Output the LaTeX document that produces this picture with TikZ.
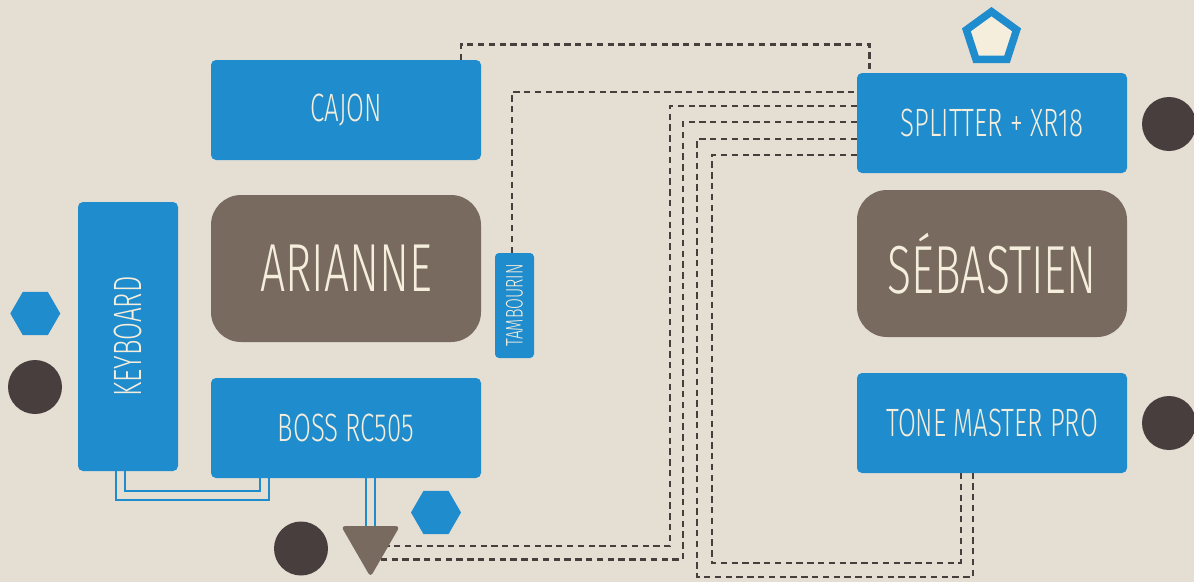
\documentclass[tikz,border=0pt]{standalone}
\usepackage{fontspec}
\setmainfont{Fira Sans Light}[FakeStretch=0.655]
\usetikzlibrary{shapes.geometric,calc}
\definecolor{bgcol}{HTML}{E5DED3}
\definecolor{bluec}{HTML}{1F8CCD}
\definecolor{brownc}{HTML}{786A5E}
\definecolor{darkc}{HTML}{483E3E}
\definecolor{creamc}{HTML}{F5EEDD}
\pgfdeclarelayer{lines}
\pgfsetlayers{lines,main}
\tikzset{
  smallbox/.style={fill=bluec, rounded corners=5pt, minimum width=270pt, minimum height=100pt, inner sep=0pt, text=creamc, font=\fontsize{39.5}{39.5}\selectfont},
  bigbox/.style={fill=brownc, rounded corners=30pt, minimum width=270pt, minimum height=147pt, inner sep=0pt, text=creamc, font=\fontsize{68}{68}\selectfont},
  rottext/.style={rotate=90, inner sep=0pt, text=creamc},
  dot/.style={circle, fill=darkc, minimum size=54pt, inner sep=0pt},
  hexa/.style={regular polygon, regular polygon sides=6, fill=bluec, minimum size=50pt, inner sep=0pt},
  dashline/.style={draw=darkc, line width=2.8pt, dash pattern=on 6.3pt off 4.5pt},
  dblline/.style={draw=bluec, line width=2.2pt, double=bgcol, double distance=6.8pt},
}
\begin{document}
\begin{tikzpicture}[x=1pt,y=-1pt]
\begin{pgfonlayer}{lines}
\fill[bgcol] (0,0) rectangle (1194,582);
\end{pgfonlayer}
\useasboundingbox (0,0) rectangle (1194,582);
% left group
\node[smallbox] (cajon) at (346,110) {CAJON};
\node[bigbox] (arianne) at (346,268.5) {ARIANNE};
\node[smallbox] (boss) at (346,428) {BOSS RC505};
\node[smallbox, minimum width=100pt, minimum height=269pt] (keyboard) at (128,336.5) {};
\node[rottext, font=\fontsize{39.5}{39.5}\selectfont] (kbtext) at (keyboard.center) {KEYBOARD};
\node[fill=bluec, rounded corners=4pt, minimum width=39pt, minimum height=105pt, inner sep=0pt] (tamb) at (514.5,305.5) {};
\node[rottext, font=\fontsize{24}{24}\selectfont] (tambtext) at (tamb.center) {TAMBOURIN};
% right group
\node[smallbox] (splitter) at (992,123) {SPLITTER + XR18};
\node[bigbox] (seb) at (992,263.5) {SÉBASTIEN};
\node[smallbox] (tone) at (992,423) {TONE MASTER PRO};
% symbols
\node[regular polygon, regular polygon sides=5, draw=bluec, fill=creamc, line width=7.5pt, minimum size=52.8pt, inner sep=0pt] (penta) at (991.5,38) {};
\node[dot] (dotsplit) at (1169,124) {};
\node[dot] (dottone) at (1169,423) {};
\node[dot] (dotleft) at (35,387) {};
\node[dot] (dotbottom) at (301,548.5) {};
\node[hexa] (hexleft) at (35.3,313.5) {};
\node[hexa] (hexbottom) at (436,512.5) {};
\node[regular polygon, regular polygon sides=3, shape border rotate=180, fill=brownc, rounded corners=4pt, minimum size=68pt, inner sep=0pt] (tri) at (370.5,543) {};
% connectors
\begin{pgfonlayer}{lines}
\draw[dblline] ([xshift=-7.5pt]keyboard.south) -- ++(0,24.5) -| ([xshift=-81.5pt]boss.south);
\draw[dblline] (boss.south -| tri.center) -- (tri.center);
\draw[dashline] ([xshift=115pt]cajon.north) -- ++(0,-15.5) -| ([xshift=-122.5pt]splitter.north);
\draw[dashline] ([xshift=-2.5pt]tamb.north) |- ([yshift=31pt]splitter.west);
\draw[dashline] ([yshift=17pt]splitter.west) -| (670,546) -- ([yshift=-3pt]tri.center);
\draw[dashline] ([yshift=1pt]splitter.west) -| (683,559.5) -- ([yshift=-16.5pt]tri.center);
\draw[dashline] ([yshift=-16pt]splitter.west) -| (697,577) -| ([xshift=-19pt]tone.south);
\draw[dashline] ([yshift=-32pt]splitter.west) -| (712,563) -| ([xshift=-31pt]tone.south);
\end{pgfonlayer}
\end{tikzpicture}
\end{document}
